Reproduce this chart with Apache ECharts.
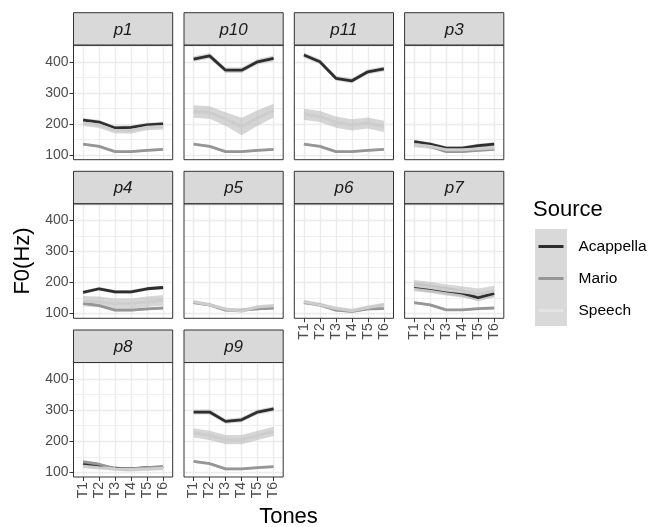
<!DOCTYPE html>
<html><head><meta charset="utf-8">
<script src="https://cdn.jsdelivr.net/npm/echarts@6/dist/echarts.min.js"></script>
<style>html,body{margin:0;padding:0;background:#fff}#c{width:656px;height:527px}</style>
</head><body><div id="c"></div>
<script>
// ---------- data ----------
const tones = ['T1','T2','T3','T4','T5','T6'];
const panels = ['p1','p10','p11','p3','p4','p5','p6','p7','p8','p9'];
const sources = ['Acappella','Mario','Speech'];
const yTicks = [100,200,300,400];
const yMinor = [150,250,350,450];

// means (Hz)
const p1_acappella  = [212,206,187,189,197,200];
const p1_mario      = [135,128,111,111,115,118];
const p1_speech     = [203,197,179,179,190,192];
const p10_acappella = [409,419,373,373,400,411];
const p10_mario     = [135,128,111,111,115,118];
const p10_speech    = [240,237,216,192,219,243];
const p11_acappella = [422,400,347,339,368,377];
const p11_mario     = [135,128,111,111,115,118];
const p11_speech    = [231,224,206,197,203,192];
const p3_acappella  = [143,135,122,122,130,135];
const p3_mario      = [135,128,111,111,115,118];
const p3_speech     = [133,128,117,117,120,122];
const p4_acappella  = [168,180,170,170,180,184];
const p4_mario      = [133,126,111,111,115,118];
const p4_speech     = [140,138,132,132,138,143];
const p5_acappella  = null;
const p5_mario      = [135,128,111,111,115,118];
const p5_speech     = [138,128,114,109,121,125];
const p6_acappella  = null;
const p6_mario      = [135,128,111,107,115,116];
const p6_speech     = [138,128,116,109,119,128];
const p7_acappella  = [188,181,173,166,151,165];
const p7_mario      = [135,128,112,112,116,118];
const p7_speech     = [190,184,176,170,163,172];
const p8_acappella  = [128,120,113,111,115,117];
const p8_mario      = [134,126,112,111,115,118];
const p8_speech     = [120,115,111,109,111,113];
const p9_acappella  = [294,294,264,269,294,304];
const p9_mario      = [135,128,111,111,115,118];
const p9_speech     = [227,219,205,205,219,232];

// confidence half-widths (Hz)
const p1_acappella_ci  = [7,7,7,7,7,7];
const p1_mario_ci      = [4,4,4,4,4,4];
const p1_speech_ci     = [10,10,10,10,10,10];
const p10_acappella_ci = [9,9,9,9,9,9];
const p10_mario_ci     = [4,4,4,4,4,4];
const p10_speech_ci    = [20,20,22,28,25,22];
const p11_acappella_ci = [8,8,8,8,8,8];
const p11_mario_ci     = [4,4,4,4,4,4];
const p11_speech_ci    = [18,18,18,18,18,18];
const p3_acappella_ci  = [6,6,6,6,6,6];
const p3_mario_ci      = [4,4,4,4,4,4];
const p3_speech_ci     = [8,8,8,8,8,8];
const p4_acappella_ci  = [6,6,6,6,6,6];
const p4_mario_ci      = [4,4,4,4,4,4];
const p4_speech_ci     = [17,17,17,17,17,17];
const p5_acappella_ci  = null;
const p5_mario_ci      = [4,4,4,4,4,4];
const p5_speech_ci     = [6,6,6,6,6,6];
const p6_acappella_ci  = null;
const p6_mario_ci      = [4,4,4,4,4,4];
const p6_speech_ci     = [7,7,7,7,7,7];
const p7_acappella_ci  = [12,12,12,12,12,12];
const p7_mario_ci      = [4,4,4,4,4,4];
const p7_speech_ci     = [18,18,18,18,18,18];
const p8_acappella_ci  = [5,5,5,5,5,5];
const p8_mario_ci      = [4,4,4,4,4,4];
const p8_speech_ci     = [6,6,6,6,6,6];
const p9_acappella_ci  = [8,8,8,8,8,8];
const p9_mario_ci      = [4,4,4,4,4,4];
const p9_speech_ci     = [15,15,15,15,15,15];

const means = [
  [p1_acappella,p1_mario,p1_speech],[p10_acappella,p10_mario,p10_speech],
  [p11_acappella,p11_mario,p11_speech],[p3_acappella,p3_mario,p3_speech],
  [p4_acappella,p4_mario,p4_speech],[p5_acappella,p5_mario,p5_speech],
  [p6_acappella,p6_mario,p6_speech],[p7_acappella,p7_mario,p7_speech],
  [p8_acappella,p8_mario,p8_speech],[p9_acappella,p9_mario,p9_speech]];
const cis = [
  [p1_acappella_ci,p1_mario_ci,p1_speech_ci],[p10_acappella_ci,p10_mario_ci,p10_speech_ci],
  [p11_acappella_ci,p11_mario_ci,p11_speech_ci],[p3_acappella_ci,p3_mario_ci,p3_speech_ci],
  [p4_acappella_ci,p4_mario_ci,p4_speech_ci],[p5_acappella_ci,p5_mario_ci,p5_speech_ci],
  [p6_acappella_ci,p6_mario_ci,p6_speech_ci],[p7_acappella_ci,p7_mario_ci,p7_speech_ci],
  [p8_acappella_ci,p8_mario_ci,p8_speech_ci],[p9_acappella_ci,p9_mario_ci,p9_speech_ci]];

// ---------- layout / style ----------
const FONT = '"Liberation Sans", Arial, sans-serif';
const COL_LEFT = [73.5, 184, 294.3, 404.6];
const PANEL_W = 99.2;
const ROW_STRIP = [12.7, 171.3, 330];
const STRIP_H = 32.5;
const PLOT_H = 114.5;
const LINE_COLORS = ['#2e2e2e', '#969696', '#cdcdcd'];
const RIBBON = '#b5b5b5';
const Y_MIN = 84.9, Y_MAX = 453.5;

const grids = [], xAxes = [], yAxes = [], series = [], graphics = [];
const xVals = tones.map((t, j) => j + 1);

panels.forEach((name, k) => {
  const r = Math.floor(k / 4), c = k % 4;
  const left = COL_LEFT[c], top = ROW_STRIP[r] + STRIP_H;
  const showX = (k + 4) >= panels.length;
  const showY = c === 0;
  grids.push({left: left, top: top, width: PANEL_W, height: PLOT_H,
    show: true, backgroundColor: '#ffffff', borderColor: 'transparent', borderWidth: 0, containLabel: false});
  xAxes.push({gridIndex: k, type: 'value', min: 0.4, max: 6.6,
    axisLine: {show: false},
    axisTick: {show: showX, customValues: xVals, length: 4, lineStyle: {color: '#333333', width: 1}},
    axisLabel: {show: showX, customValues: xVals, formatter: v => tones[Math.round(v) - 1],
      rotate: 90, fontSize: 14, color: '#4d4d4d', fontFamily: FONT, margin: 5},
    splitLine: {show: true, lineStyle: {color: '#ebebeb', width: 1.4}}});
  yAxes.push({gridIndex: k, type: 'value', min: Y_MIN, max: Y_MAX,
    axisLine: {show: false},
    axisTick: {show: showY, customValues: yTicks, length: 4, lineStyle: {color: '#333333', width: 1}},
    axisLabel: {show: showY, customValues: yTicks, fontSize: 14, color: '#4d4d4d', fontFamily: FONT, margin: 5},
    splitLine: {show: true, lineStyle: {color: '#ebebeb', width: 1.4}}});
  // strip
  graphics.push({type: 'rect', z: 50, shape: {x: left, y: ROW_STRIP[r], width: PANEL_W, height: STRIP_H},
    style: {fill: '#d9d9d9', stroke: '#333333', lineWidth: 1}});
  graphics.push({type: 'text', z: 51, x: left + PANEL_W / 2, y: ROW_STRIP[r] + STRIP_H / 2 + 1,
    style: {text: name, font: 'italic 17px ' + FONT, fill: '#1a1a1a', align: 'center', verticalAlign: 'middle',
      textAlign: 'center', textVerticalAlign: 'middle'}});
  // panel border
  graphics.push({type: 'rect', z: 50, shape: {x: left, y: top, width: PANEL_W, height: PLOT_H},
    style: {fill: 'none', stroke: '#333333', lineWidth: 1}});
});
// minor horizontal grid lines (second y axis per panel)
panels.forEach((name, k) => {
  yAxes.push({gridIndex: k, type: 'value', min: Y_MIN, max: Y_MAX, show: true,
    axisLine: {show: false}, axisTick: {show: false, customValues: yMinor},
    axisLabel: {show: false, customValues: yMinor},
    splitLine: {show: true, lineStyle: {color: '#eeeeee', width: 0.9}}});
});

panels.forEach((name, k) => {
  sources.forEach((src, s) => {
    const m = means[k][s], ci = cis[k][s];
    if (!m) return;
    series.push({type: 'custom', name: src, xAxisIndex: k, yAxisIndex: k, silent: true, z: 1,
      data: m.map((v, j) => [j + 1, v - ci[j], v + ci[j]]),
      encode: {x: 0, y: [1, 2]},
      renderItem: function (params, api) {
        if (params.dataIndexInside !== 0) return null;
        const n = params.dataInsideLength;
        const up = [], lo = [];
        for (let j = 0; j < n; j++) {
          up.push(api.coord([api.value(0, j), api.value(2, j)]));
          lo.push(api.coord([api.value(0, j), api.value(1, j)]));
        }
        return {type: 'polygon', shape: {points: up.concat(lo.reverse())},
          style: {fill: RIBBON, opacity: 0.55}};
      }});
  });
  sources.forEach((src, s) => {
    const m = means[k][s];
    if (!m) return;
    series.push({type: 'line', name: src, xAxisIndex: k, yAxisIndex: k, silent: true, z: 2 + s,
      data: m.map((v, j) => [j + 1, v]), symbol: 'none',
      lineStyle: {color: LINE_COLORS[s], width: 2.8}, itemStyle: {color: LINE_COLORS[s]}});
  });
});

// legend background + titles
graphics.push({type: 'rect', z: 0, shape: {x: 535, y: 229, width: 32, height: 97}, style: {fill: '#d9d9d9'}});
graphics.push({type: 'text', x: 533, y: 210, style: {text: 'Source', font: '22px ' + FONT, fill: '#000',
  align: 'left', verticalAlign: 'middle', textAlign: 'left', textVerticalAlign: 'middle'}});
graphics.push({type: 'text', x: 288.5, y: 517, style: {text: 'Tones', font: '22px ' + FONT, fill: '#000',
  align: 'center', verticalAlign: 'middle', textAlign: 'center', textVerticalAlign: 'middle'}});
graphics.push({type: 'text', x: 23, y: 261, rotation: Math.PI / 2, style: {text: 'F0(Hz)', font: '22px ' + FONT, fill: '#000',
  align: 'center', verticalAlign: 'middle', textAlign: 'center', textVerticalAlign: 'middle'}});

const chart = echarts.init(document.getElementById('c'));
chart.setOption({
  animation: false,
  backgroundColor: '#ffffff',
  grid: grids, xAxis: xAxes, yAxis: yAxes, series: series,
  legend: {orient: 'vertical', left: 538.5, top: 238.5, itemGap: 16, itemWidth: 25, itemHeight: 3,
    selectedMode: false, padding: 0, icon: 'rect',
    textStyle: {fontSize: 15.5, color: '#000', fontFamily: FONT, padding: [0, 0, 0, 10]},
    data: [{name: 'Acappella', itemStyle: {color: LINE_COLORS[0]}},
           {name: 'Mario', itemStyle: {color: LINE_COLORS[1]}},
           {name: 'Speech', itemStyle: {color: '#e3e3e3'}}]},
  graphic: graphics
});
</script></body></html>
